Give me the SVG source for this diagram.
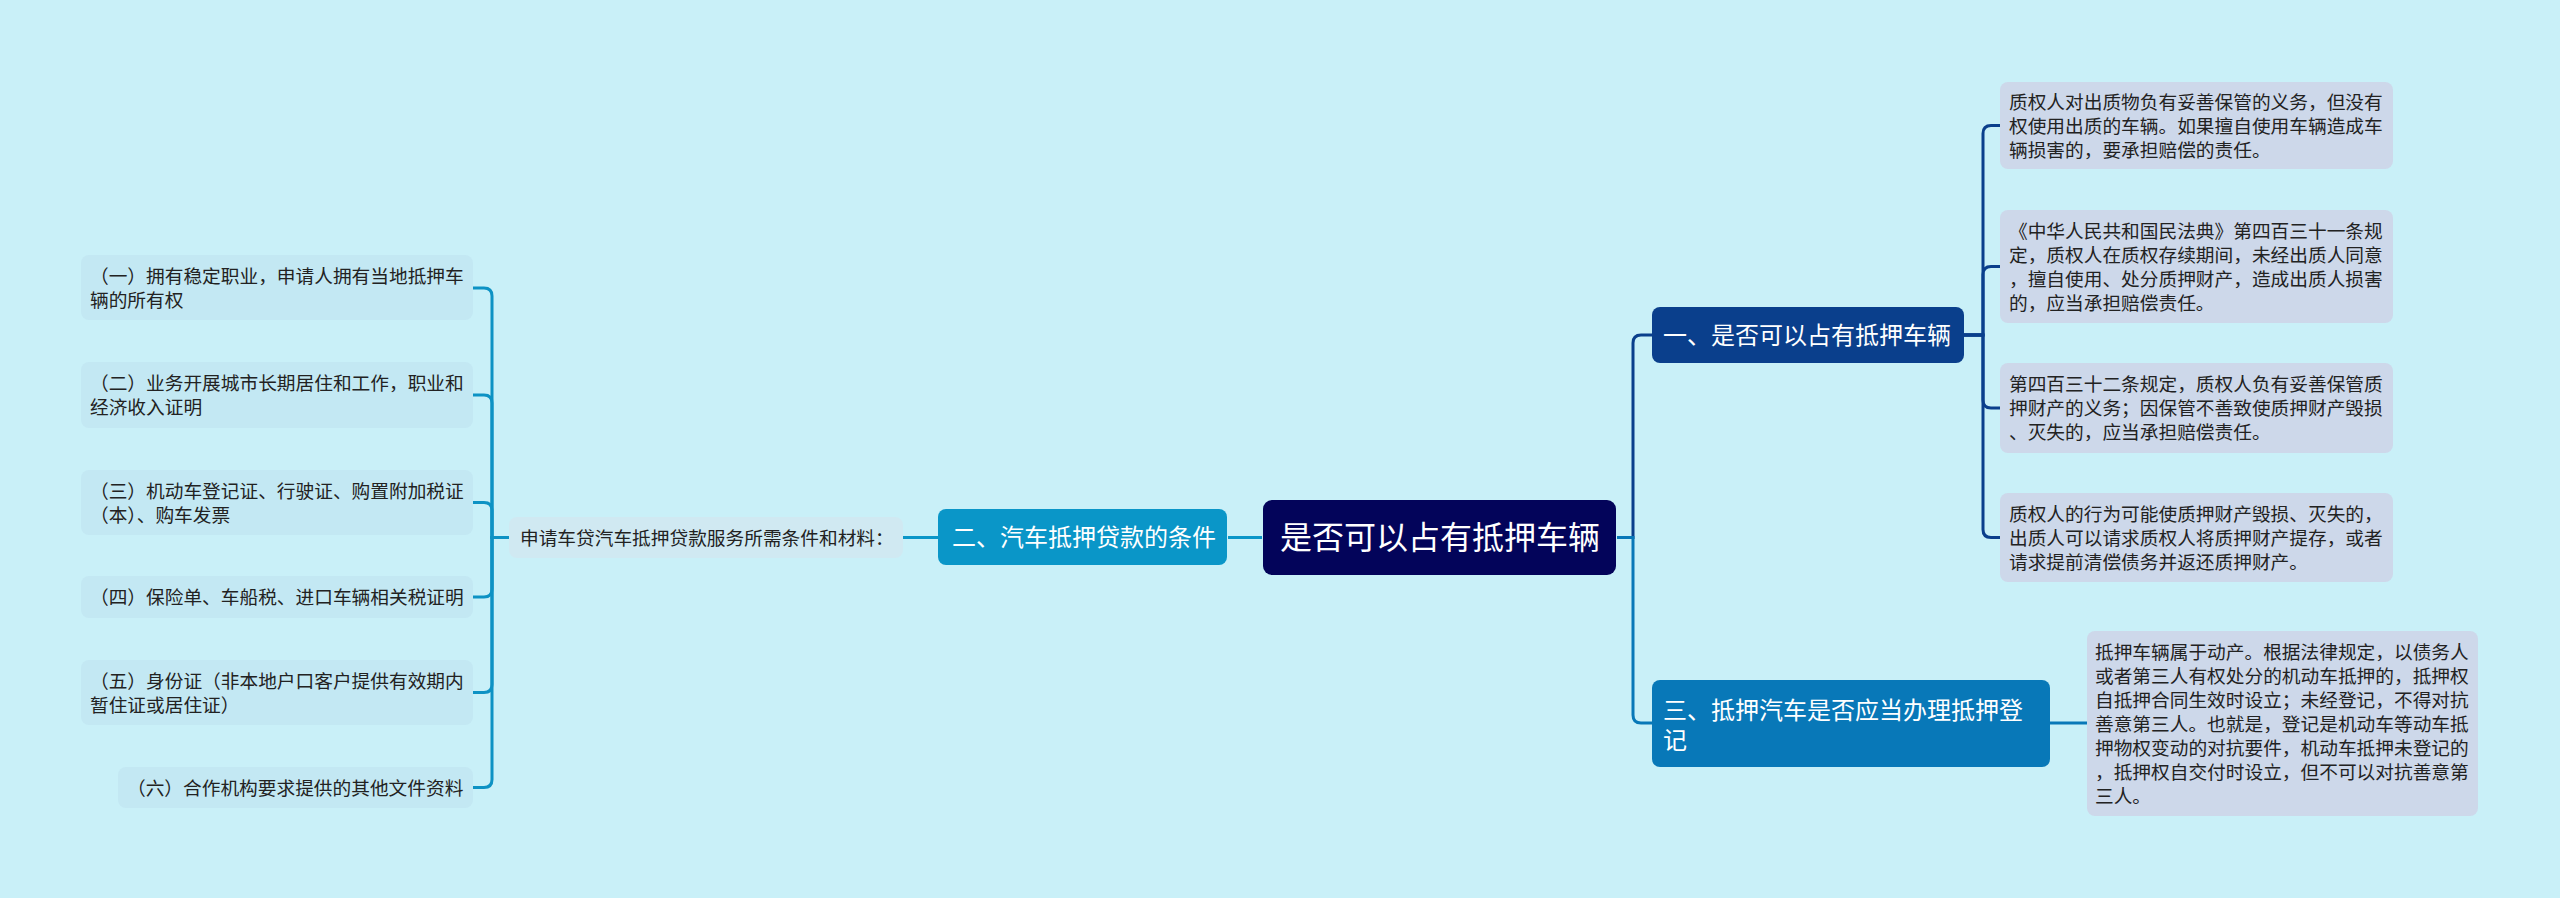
<svg xmlns="http://www.w3.org/2000/svg" width="2560" height="898" viewBox="0 0 2560 898">
<style>
text{font-family:"Noto Sans CJK SC","Noto Sans",sans-serif}
.leafR{fill:#cdd8ea}
.leafL{fill:#c3e8f3}
.lt{font-size:18.7px;fill:#222}
.nt{font-size:24px;fill:#fff}
.conn{fill:none;stroke-width:3}
</style>
<rect width="2560" height="898" fill="#c9f0f8"/>
<g id="connectors">
<path class="conn" stroke="#0a96c8" d="M1262,537.5 H1228"/>
<path class="conn" stroke="#0a96c8" d="M939,537.5 H903"/>
<g stroke="#0d92c4">
<path class="conn" d="M509,537.5 H492 V296 Q492,288 484,288 H473"/>
<path class="conn" d="M509,537.5 H492 V403 Q492,395 484,395 H473"/>
<path class="conn" d="M509,537.5 H492 V510.5 Q492,502.5 484,502.5 H473"/>
<path class="conn" d="M509,537.5 H492 V589 Q492,597 484,597 H473"/>
<path class="conn" d="M509,537.5 H492 V684.5 Q492,692.5 484,692.5 H473"/>
<path class="conn" d="M509,537.5 H492 V779.5 Q492,787.5 484,787.5 H473"/>
</g>
<path class="conn" stroke="#0a3f8c" d="M1617,537.5 H1633 V343 Q1633,335 1641,335 H1652"/>
<path class="conn" stroke="#0878b8" d="M1617,537.5 H1633 V715 Q1633,723 1641,723 H1652"/>
<g stroke="#0a3f8c">
<path class="conn" d="M1964,335 H1983 V133.5 Q1983,125.5 1991,125.5 H2000"/>
<path class="conn" d="M1964,335 H1983 V274.5 Q1983,266.5 1991,266.5 H2000"/>
<path class="conn" d="M1964,335 H1983 V400 Q1983,408 1991,408 H2000"/>
<path class="conn" d="M1964,335 H1983 V529.5 Q1983,537.5 1991,537.5 H2000"/>
</g>
<path class="conn" stroke="#0878b8" d="M2050,723 H2087"/>
</g>
<g id="root">
<rect x="1263" y="500" width="353" height="75" rx="9" fill="#03045a"/>
<text x="1280" y="549" font-size="32" fill="#fff">是否可以占有抵押车辆</text>
</g>
<g id="n2">
<rect x="938" y="509" width="289" height="56" rx="8" fill="#0a96c8"/>
<text class="nt" x="952" y="546">二、汽车抵押贷款的条件</text>
</g>
<g id="n2label">
<rect x="509" y="517" width="394" height="41" rx="8" fill="#d0e9f2"/>
<text class="lt" x="520" y="544.5">申请车贷汽车抵押贷款服务所需条件和材料：</text>
</g>
<g id="l1">
<rect class="leafL" x="81" y="255" width="392" height="65" rx="8"/>
<text class="lt" x="90" y="282.5">（一）拥有稳定职业，申请人拥有当地抵押车</text>
<text class="lt" x="90" y="306.5">辆的所有权</text>
</g>
<g id="l2">
<rect class="leafL" x="81" y="362" width="392" height="66" rx="8"/>
<text class="lt" x="90" y="390">（二）业务开展城市长期居住和工作，职业和</text>
<text class="lt" x="90" y="414">经济收入证明</text>
</g>
<g id="l3">
<rect class="leafL" x="81" y="470" width="392" height="65" rx="8"/>
<text class="lt" x="90" y="497.5">（三）机动车登记证、行驶证、购置附加税证</text>
<text class="lt" x="90" y="521.5">（本）、购车发票</text>
</g>
<g id="l4">
<rect class="leafL" x="81" y="576" width="392" height="42" rx="8"/>
<text class="lt" x="90" y="604">（四）保险单、车船税、进口车辆相关税证明</text>
</g>
<g id="l5">
<rect class="leafL" x="81" y="660" width="392" height="65" rx="8"/>
<text class="lt" x="90" y="687.5">（五）身份证（非本地户口客户提供有效期内</text>
<text class="lt" x="90" y="711.5">暂住证或居住证）</text>
</g>
<g id="l6">
<rect class="leafL" x="118" y="767" width="355" height="41" rx="8"/>
<text class="lt" x="127" y="794.5">（六）合作机构要求提供的其他文件资料</text>
</g>
<g id="n1">
<rect x="1652" y="307" width="312" height="56" rx="8" fill="#0a3f8c"/>
<text class="nt" x="1663" y="344">一、是否可以占有抵押车辆</text>
</g>
<g id="n3">
<rect x="1652" y="680" width="398" height="87" rx="8" fill="#0878b8"/>
<text class="nt" x="1663" y="719">三、抵押汽车是否应当办理抵押登</text>
<text class="nt" x="1663" y="749">记</text>
</g>
<g id="rA">
<rect class="leafR" x="2000" y="82" width="393" height="87" rx="8"/>
<text class="lt" x="2009" y="108.5">质权人对出质物负有妥善保管的义务，但没有</text>
<text class="lt" x="2009" y="132.5">权使用出质的车辆。如果擅自使用车辆造成车</text>
<text class="lt" x="2009" y="156.5">辆损害的，要承担赔偿的责任。</text>
</g>
<g id="rB">
<rect class="leafR" x="2000" y="210" width="393" height="113" rx="8"/>
<text class="lt" x="2009" y="237.5">《中华人民共和国民法典》第四百三十一条规</text>
<text class="lt" x="2009" y="261.5">定，质权人在质权存续期间，未经出质人同意</text>
<text class="lt" x="2009" y="285.5">，擅自使用、处分质押财产，造成出质人损害</text>
<text class="lt" x="2009" y="309.5">的，应当承担赔偿责任。</text>
</g>
<g id="rC">
<rect class="leafR" x="2000" y="363" width="393" height="90" rx="8"/>
<text class="lt" x="2009" y="391">第四百三十二条规定，质权人负有妥善保管质</text>
<text class="lt" x="2009" y="415">押财产的义务；因保管不善致使质押财产毁损</text>
<text class="lt" x="2009" y="439">、灭失的，应当承担赔偿责任。</text>
</g>
<g id="rD">
<rect class="leafR" x="2000" y="493" width="393" height="89" rx="8"/>
<text class="lt" x="2009" y="520.5">质权人的行为可能使质押财产毁损、灭失的，</text>
<text class="lt" x="2009" y="544.5">出质人可以请求质权人将质押财产提存，或者</text>
<text class="lt" x="2009" y="568.5">请求提前清偿债务并返还质押财产。</text>
</g>
<g id="rE">
<rect class="leafR" x="2087" y="631" width="391" height="185" rx="8"/>
<text class="lt" x="2095" y="658.5">抵押车辆属于动产。根据法律规定，以债务人</text>
<text class="lt" x="2095" y="682.5">或者第三人有权处分的机动车抵押的，抵押权</text>
<text class="lt" x="2095" y="706.5">自抵押合同生效时设立；未经登记，不得对抗</text>
<text class="lt" x="2095" y="730.5">善意第三人。也就是，登记是机动车等动车抵</text>
<text class="lt" x="2095" y="754.5">押物权变动的对抗要件，机动车抵押未登记的</text>
<text class="lt" x="2095" y="778.5">，抵押权自交付时设立，但不可以对抗善意第</text>
<text class="lt" x="2095" y="802.5">三人。</text>
</g>
</svg>
